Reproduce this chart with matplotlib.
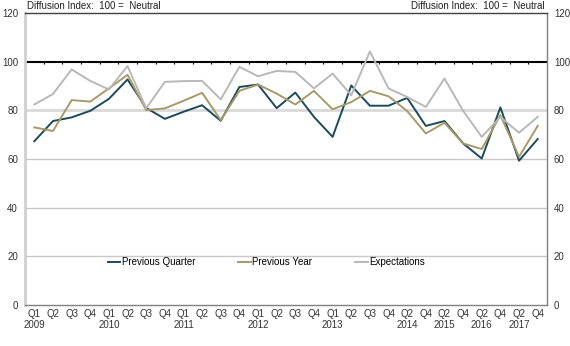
import matplotlib
matplotlib.use("Agg")
import matplotlib.pyplot as plt
import numpy as np

plt.rcParams['font.family'] = ['Liberation Sans', 'DejaVu Sans']

quarters = ["Q1\n2009", "Q2", "Q3", "Q4", "Q1\n2010", "Q2", "Q3", "Q4",
            "Q1\n2011", "Q2", "Q3", "Q4", "Q1\n2012", "Q2", "Q3", "Q4",
            "Q1\n2013", "Q2", "Q3", "Q4", "Q2\n2014", "Q4", "Q2\n2015", "Q4",
            "Q2\n2016", "Q4", "Q2\n2017", "Q4"]

previous_quarter = [67.3, 75.6, 77.1, 79.8, 84.7, 92.7, 81.0, 76.5, 79.4, 82.1,
                    75.7, 89.6, 90.6, 80.9, 87.3, 77.3, 69.1, 90.2, 81.9, 81.9,
                    85.1, 73.6, 75.6, 66.4, 60.2, 81.2, 59.3, 68.2]
previous_year = [73.0, 71.5, 84.2, 83.6, 89.0, 94.6, 80.1, 80.8, 83.9, 87.2,
                 76.0, 88.0, 90.6, 86.9, 82.4, 88.0, 80.4, 83.4, 88.0, 85.8,
                 79.7, 70.5, 74.9, 66.4, 64.1, 78.0, 60.9, 73.6]
expectations = [82.4, 86.7, 96.8, 92.1, 88.6, 98.2, 80.8, 91.7, 92.0, 92.1,
                84.5, 97.9, 94.0, 96.2, 95.8, 89.0, 95.1, 86.2, 104.2, 89.0,
                85.5, 81.4, 93.1, 79.8, 69.1, 77.3, 70.8, 77.3]

series_names = ["Previous Quarter", "Previous Year", "Expectations"]
y_ticks = [0, 20, 40, 60, 80, 100, 120]
header = "Diffusion Index:  100 =  Neutral"

W, H = 570, 346
fig = plt.figure(figsize=(W / 100, H / 100), dpi=100)
ax = fig.add_axes([25 / W, 1 - 305 / H, (547 - 25) / W, (305 - 13) / H])

x = np.arange(len(quarters))
ax.set_xlim(-0.5, len(quarters) - 0.5)
ax.set_ylim(0, 120)

# gridlines
for v in [20, 40, 60]:
    ax.axhline(v, color='#c8c8c8', lw=1.0, zorder=1)
ax.axhline(80, color='#d9d9d9', lw=2.0, zorder=1)
ax.axhline(100, color='#000000', lw=1.5, zorder=2)
# small tick marks on the 100 line at category boundaries
bounds = np.arange(len(quarters) + 1) - 0.5
ax.vlines(bounds[1:-1], 99.1, 100, color='#000000', lw=0.8, zorder=2)

colors = ['#1c4a5a', '#a8996b', '#b8b8b8']
data = [previous_quarter, previous_year, expectations]
for vals, c, name in zip(data, colors, series_names):
    ax.plot(x, vals, color=c, lw=1.4, label=name, zorder=3)

# spines
ax.spines['left'].set_color('#d0d0d0')
ax.spines['left'].set_linewidth(2.0)
ax.spines['right'].set_color('#808080')
ax.spines['right'].set_linewidth(1.0)
ax.spines['top'].set_color('#404040')
ax.spines['top'].set_linewidth(1.0)
ax.spines['bottom'].set_color('#808080')
ax.spines['bottom'].set_linewidth(1.0)

ax.set_yticks(y_ticks)
ax.set_yticklabels([str(v) for v in y_ticks])
ax.tick_params(axis='y', length=0, labelsize=7, colors='#333333', pad=5,
               labelright=True, right=False)
ax.set_xticks(x)
ax.set_xticklabels(quarters, linespacing=1.15)
ax.tick_params(axis='x', length=0, labelsize=7, colors='#333333', pad=3)

ax.text(0.004, 1.008, header, transform=ax.transAxes, fontsize=7,
        ha='left', va='bottom', color='#222222')
ax.text(0.996, 1.008, header, transform=ax.transAxes, fontsize=7,
        ha='right', va='bottom', color='#222222')

leg = ax.legend(loc='center', bbox_to_anchor=(0.462, 0.147), ncol=3,
                frameon=False, fontsize=7, handlelength=1.3,
                handletextpad=0.15, columnspacing=4.4)

fig.savefig('out.png', dpi=100)
